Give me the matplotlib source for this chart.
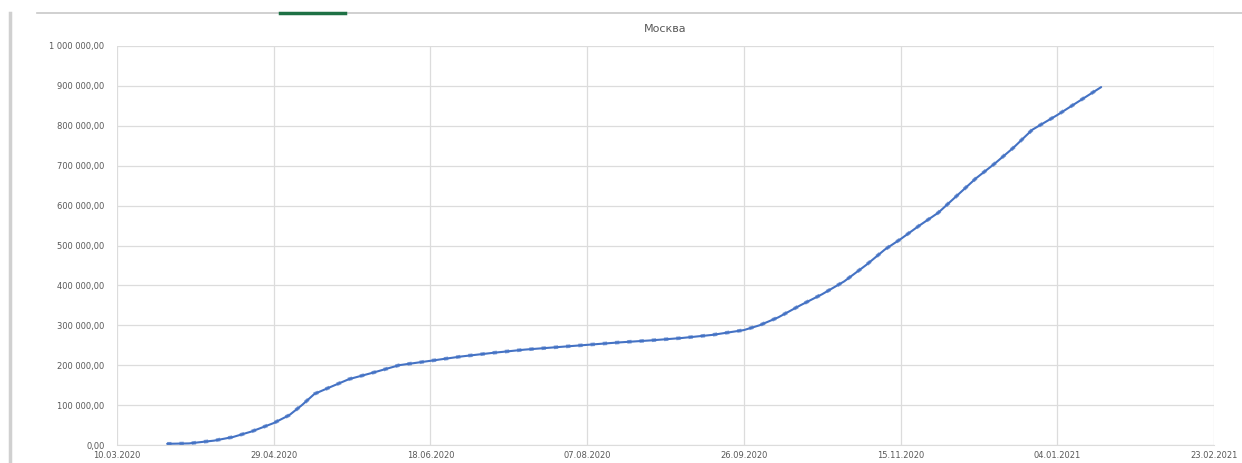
import matplotlib
matplotlib.use("Agg")
import matplotlib.pyplot as plt
import matplotlib.dates as mdates
from matplotlib.ticker import FuncFormatter, MultipleLocator, FixedLocator
from matplotlib.lines import Line2D
import datetime as dt

# cumulative cases, Moscow
dates = [
    "26.03.2020", "02.04.2020", "10.04.2020", "16.04.2020", "22.04.2020",
    "29.04.2020", "04.05.2020", "08.05.2020", "12.05.2020", "17.05.2020",
    "23.05.2020", "31.05.2020", "08.06.2020", "18.06.2020", "28.06.2020",
    "08.07.2020", "18.07.2020", "28.07.2020", "07.08.2020", "17.08.2020",
    "27.08.2020", "06.09.2020", "16.09.2020", "26.09.2020", "01.10.2020",
    "07.10.2020", "14.10.2020", "21.10.2020", "28.10.2020", "04.11.2020",
    "10.11.2020", "15.11.2020", "21.11.2020", "27.11.2020", "03.12.2020",
    "09.12.2020", "15.12.2020", "21.12.2020", "27.12.2020", "04.01.2021",
    "11.01.2021", "18.01.2021",
]
cases = [
    3000, 4000, 11000, 20000, 34000,
    55000, 75000, 100000, 128000, 145000,
    165000, 182000, 200000, 211000, 222000,
    231000, 239000, 245000, 251000, 257000,
    262000, 268000, 276000, 288000, 300000,
    320000, 350000, 378000, 410000, 451000,
    490000, 516000, 550000, 582000, 625000,
    668000, 705000, 745000, 790000, 827000,
    862000, 897000,
]
x_start = "10.03.2020"
x_end = "23.02.2021"
title = "Москва"

grid_c = "#dcdcdc"
text_c = "#595959"
line_c = "#4472c4"

to_date = lambda s: dt.datetime.strptime(s, "%d.%m.%Y")
xd = [to_date(s) for s in dates]

fig = plt.figure(figsize=(12.42, 4.63), dpi=100)
ax = fig.add_axes([117 / 1242, 1 - 445 / 463, (1214 - 117) / 1242, (445 - 46) / 463])

ax.plot(xd, cases, color=line_c, lw=1.5, solid_capstyle="round", zorder=3)
# data series drawn as a broken thicker line over the trend
ax.plot(xd, cases, color=line_c, lw=2.6, ls=(0, (1.2, 2.2)), alpha=0.7, zorder=4)

d0, d1 = to_date(x_start), to_date(x_end)
ax.set_xlim(d0, d1)
ax.set_ylim(0, 1000000)

ticks = [d0 + dt.timedelta(days=50 * i) for i in range(8)]
ax.xaxis.set_major_locator(FixedLocator(mdates.date2num(ticks)))
ax.xaxis.set_major_formatter(mdates.DateFormatter("%d.%m.%Y"))
ax.yaxis.set_major_locator(MultipleLocator(100000))


def ru_fmt(v, pos):
    s = f"{v:,.2f}".replace(",", " ").replace(".", ",")
    return s


ax.yaxis.set_major_formatter(FuncFormatter(ru_fmt))

ax.grid(True, color=grid_c, lw=0.9, zorder=0)
for side in ["top", "right", "left"]:
    ax.spines[side].set_visible(False)
ax.spines["bottom"].set_color(grid_c)
ax.tick_params(axis="both", length=0, labelsize=6, labelcolor=text_c)
ax.tick_params(axis="y", pad=9)
ax.tick_params(axis="x", pad=4)
ax.set_title(title, fontsize=8, color=text_c, pad=10)

# excel window frame bits
fig.add_artist(Line2D([37 / 1242, 1], [1 - 13 / 463] * 2, color="#c8c8c8", lw=1.2))
fig.add_artist(Line2D([280 / 1242, 345 / 1242], [1 - 13 / 463] * 2, color="#1e7145", lw=2.5))
fig.add_artist(Line2D([10 / 1242] * 2, [0, 1 - 13 / 463], color="#d0d0d0", lw=2.5))

fig.savefig("out.png", dpi=100)
